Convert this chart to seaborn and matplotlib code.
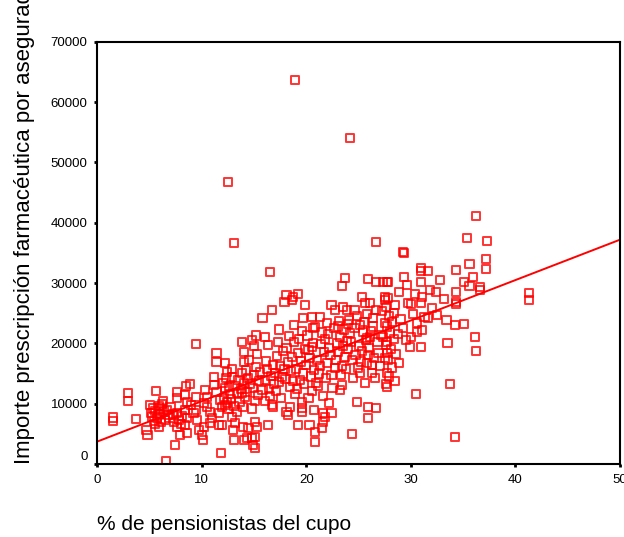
import matplotlib
matplotlib.use("Agg")
import matplotlib.pyplot as plt
import matplotlib.transforms as mtransforms
import numpy as np
import pandas as pd
import seaborn as sns

# ---------------- data ----------------
# (% de pensionistas del cupo, importe prescripción por asegurado)
puntos_aislados = [
    (18.9, 63700), (24.2, 54000), (12.5, 46700), (13.1, 36700), (16.5, 31900),
    (26.7, 36800), (41.3, 28300), (41.3, 27200), (34.2, 4500), (33.7, 13300),
    (30.5, 11600), (6.6, 500), (11.8, 1800), (7.4, 3200), (1.5, 7700),
    (1.5, 7200), (2.9, 11700), (2.9, 10500), (3.7, 7500), (9.4, 19900),
    (24.4, 5000), (20.8, 3600),
]
puntos_izquierda = [
    (5.6, 12100), (5.0, 9800), (5.3, 9300), (5.5, 8800), (5.9, 9600), (6.2, 9900), (6.0, 8300), (5.7, 7600), (5.1, 8500), (5.4, 7200),
    (4.7, 5600), (4.8, 4800), (5.9, 6200), (6.7, 9000), (6.8, 8100), (6.5, 7300), (7.6, 12000), (7.6, 10900), (7.6, 8500), (7.8, 7300),
    (7.6, 6100), (7.9, 4800), (8.5, 12900), (8.9, 13300), (8.4, 11400), (8.6, 10300), (8.4, 9000), (8.6, 7600), (8.4, 6500), (8.6, 5100),
    (9.4, 11100), (9.4, 9000), (9.5, 7300), (9.7, 5600), (10.0, 4800), (10.1, 4000), (10.3, 12300), (10.5, 11100), (10.2, 10100), (10.8, 8600),
    (11.0, 7600), (10.8, 6800), (11.2, 14400), (11.2, 13100), (11.4, 11900), (11.7, 10600), (11.9, 9500), (11.6, 8500), (11.4, 18400), (11.4, 16900),
    (12.2, 16700), (12.4, 15300), (11.6, 6500), (11.9, 6500), (13.1, 4000), (14.0, 4000), (12.9, 14400), (13.2, 13000), (13.4, 11800), (12.8, 10800),
    (13.1, 9600), (13.4, 8600), (12.9, 7800), (13.2, 6800), (13.0, 5600), (13.8, 20200), (14.0, 18600), (14.0, 16900), (13.8, 15100), (14.0, 13400),
    (13.8, 11800), (6.3, 10400), (7.0, 9500), (7.2, 8200), (9.0, 9800), (9.2, 8400), (10.5, 9400), (10.2, 6200), (12.2, 12600), (12.5, 9200),
    (5.2, 7800), (5.8, 8200), (6.1, 7000), (6.4, 8700), (5.5, 6700), (6.9, 7700), (7.3, 6900), (8.1, 7900), (8.0, 6700), (6.0, 9200),
]
puntos_inferiores = [
    (14.8, 9200), (13.9, 6100), (14.4, 6000), (15.1, 7000), (15.3, 6100), (14.3, 4300), (14.8, 4300), (15.1, 4500), (14.9, 3200), (15.1, 2700),
    (16.3, 6500), (16.7, 9800), (16.8, 9500), (18.1, 8600), (18.4, 9500), (18.2, 8100), (19.6, 10300), (19.6, 9300), (19.6, 8600), (19.2, 6500),
    (20.3, 6500), (20.8, 5300), (20.7, 9000), (21.5, 6000), (21.6, 7000), (21.8, 7800), (21.6, 8500), (22.2, 10100), (22.4, 8500), (23.2, 12300),
    (23.4, 13100), (24.8, 10300), (25.9, 9500), (26.7, 9300), (25.9, 7600), (25.8, 16700), (26.3, 16400), (26.3, 15100), (27.7, 15100), (27.7, 12800),
    (27.5, 17600), (27.7, 18400), (26.1, 21100), (25.8, 20900), (27.3, 21100), (27.7, 20200),
]
puntos_derecha = [
    (36.2, 41100), (35.4, 37500), (37.3, 37000), (37.2, 34000), (37.2, 32300), (35.6, 33200), (34.3, 32200), (29.2, 35200), (29.3, 35000), (31.0, 32500),
    (31.0, 32000), (31.6, 32000), (29.3, 31000), (27.8, 30200), (31.0, 30200), (28.9, 28500), (32.4, 28500), (31.8, 28900), (34.3, 28500), (35.1, 30200),
    (35.6, 29500), (36.6, 29400), (36.6, 28900), (31.1, 27700), (27.8, 27500), (29.7, 26700), (30.0, 26500), (31.0, 26700), (34.3, 26900), (34.3, 26500),
    (32.0, 25900), (28.5, 26400), (28.4, 25000), (31.3, 24400), (31.6, 24200), (33.4, 23900), (34.2, 23000), (35.1, 23200), (30.6, 23400), (30.6, 21900),
    (31.1, 22200), (29.2, 22600), (36.1, 21100), (36.2, 18700), (33.5, 20100), (29.9, 19400), (31.0, 19400), (28.9, 16700),
    (27.6, 26000), (27.9, 24500), (28.2, 23600), (27.7, 22800), (28.0, 21800), (28.4, 20800), (27.6, 19800), (28.1, 19000), (28.6, 18200), (27.8, 17200),
    (28.2, 16000), (27.9, 14500), (28.5, 13800), (27.6, 13200), (28.8, 21500), (29.0, 24000), (29.5, 20500), (30.2, 24800), (30.0, 21000), (32.5, 24700),
    (32.8, 30500), (33.2, 27300), (30.4, 28200), (29.6, 29700), (35.9, 31000),
]
puntos_superiores = [
    (23.7, 30800), (23.4, 29500), (25.9, 30700), (26.7, 30200), (27.3, 30200), (27.7, 30200), (18.1, 28000), (18.7, 27700), (19.2, 28200), (17.9, 26900),
    (18.6, 27200), (19.9, 26400), (16.7, 25500), (15.8, 24200), (19.7, 24200), (20.5, 24400), (21.3, 24400), (22.4, 26400), (22.7, 25500), (23.5, 26000),
    (23.9, 25500), (24.6, 25500), (25.3, 27700), (25.6, 26700), (26.1, 26700), (26.7, 25500), (27.5, 27700), (27.5, 27200), (22.0, 23400), (23.0, 22800),
    (24.0, 23200), (25.1, 23000), (26.4, 22800), (27.5, 23400), (20.6, 22600), (18.8, 23000), (17.4, 22300), (15.2, 21300), (14.8, 20500), (16.0, 21100),
]
puntos_nucleo = [
    (12.0, 13500), (12.3, 14200), (12.6, 12800), (12.1, 11000), (12.7, 11600), (12.4, 10200), (12.9, 15800), (12.2, 9800),
    (13.5, 14000), (13.7, 12500), (14.2, 15500), (14.4, 14300), (14.1, 11100), (13.6, 10300), (14.3, 12000), (14.5, 17200), (13.9, 9400), (14.6, 13200),
    (15.0, 14800), (15.2, 16100), (14.9, 12600), (15.4, 11500), (15.1, 10400), (15.5, 13700), (15.3, 18200), (15.6, 15200), (15.0, 19500), (15.8, 12200),
    (16.0, 13900), (16.2, 15700), (16.4, 12400), (16.1, 17000), (16.5, 11200), (16.3, 19800), (16.6, 14600), (16.8, 16400), (16.0, 10500), (16.9, 13200),
    (17.0, 15100), (17.2, 17900), (17.4, 13600), (17.1, 12100), (17.5, 16300), (17.3, 20300), (17.7, 14400), (17.6, 11000), (17.8, 18800), (17.9, 15800),
    (18.0, 14100), (18.2, 16900), (18.4, 12800), (18.1, 19300), (18.5, 15400), (18.3, 21200), (18.7, 13700), (18.6, 17800), (18.9, 11600), (18.8, 20200),
    (19.0, 15800), (19.2, 18400), (19.4, 14000), (19.1, 12500), (19.5, 17000), (19.3, 20700), (19.7, 15000), (19.6, 22000), (19.8, 13200), (19.9, 19000),
    (20.0, 16400), (20.2, 18900), (20.4, 14500), (20.1, 21300), (20.5, 12100), (20.3, 17500), (20.7, 15600), (20.6, 20000), (20.9, 13500), (20.8, 22700), (20.2, 10900), (20.5, 19400),
    (21.0, 17200), (21.2, 15000), (21.4, 19900), (21.1, 13000), (21.5, 21800), (21.3, 16300), (21.7, 18600), (21.6, 11300), (21.9, 14300), (21.8, 20700),
    (22.0, 16800), (22.2, 19300), (22.4, 14700), (22.1, 21600), (22.5, 12600), (22.3, 18000), (22.7, 15900), (22.6, 22500), (22.9, 20100), (22.8, 17300),
    (23.0, 18500), (23.2, 21000), (23.4, 16200), (23.1, 23700), (23.5, 19600), (23.3, 14800), (23.7, 17700), (23.6, 22300), (23.9, 20400), (23.8, 15700),
    (24.0, 19000), (24.2, 21700), (24.4, 17300), (24.1, 23900), (24.5, 14200), (24.3, 20300), (24.7, 18100), (24.6, 22600), (24.9, 16000), (24.8, 24500),
    (25.0, 19500), (25.2, 17000), (25.4, 21900), (25.1, 15100), (25.5, 23600), (25.3, 18700), (25.7, 20500), (25.6, 13400), (25.9, 18000), (25.8, 24800),
    (26.0, 19200), (26.2, 22000), (26.5, 17600), (26.8, 20300), (26.4, 24200), (26.9, 18400), (27.1, 21400), (27.0, 16300), (26.6, 14200), (27.2, 25300),
]

x_ticks = [0, 10, 20, 30, 40, 50]
y_ticks = [0, 10000, 20000, 30000, 40000, 50000, 60000, 70000]
x_label = "% de pensionistas del cupo"
y_label = "Importe prescripción farmacéutica por asegurado"

todos = (puntos_aislados + puntos_izquierda + puntos_inferiores +
         puntos_derecha + puntos_superiores + puntos_nucleo)
df = pd.DataFrame(todos, columns=["pct", "importe"])

# ---------------- style ----------------
sns.set_style("white")
plt.rcParams["font.family"] = ["Liberation Sans", "DejaVu Sans"]

fig = plt.figure(figsize=(6.24, 5.37), dpi=100)
ax = fig.add_axes([0.156, 0.136, 0.8376, 0.786])
ax.set_xlim(0, 50)
ax.set_ylim(0, 70000)

sns.regplot(
    data=df, x="pct", y="importe", ax=ax, ci=None, truncate=False,
    color="#ff0000", marker="s",
    scatter_kws=dict(s=34, facecolors="none", edgecolors="#ff0000",
                     linewidths=1.4),
    line_kws=dict(linewidth=1.4),
)
for coll in ax.collections:
    coll.set_joinstyle("round")

ax.set_xlim(0, 50)
ax.set_ylim(0, 70000)
ax.set_xticks(x_ticks)
ax.set_yticks(y_ticks)
ax.set_xticklabels([str(v) for v in x_ticks])
ax.set_yticklabels([str(v) for v in y_ticks])

for side in ["left", "bottom", "top", "right"]:
    ax.spines[side].set_visible(True)
    ax.spines[side].set_color("black")
    ax.spines[side].set_linewidth(1.5)

ax.tick_params(axis="both", which="major", direction="out", length=2.5,
               width=2, color="black", labelsize=9.5, labelcolor="black",
               left=True, bottom=True, top=False, right=False)
ax.tick_params(axis="x", pad=4.8)
ax.tick_params(axis="y", pad=4.5)

ax.set_xlabel(x_label, fontsize=15, loc="left", labelpad=21, color="black")
ax.set_ylabel(y_label, fontsize=16, loc="bottom", labelpad=11, color="black")

fig.canvas.draw()
lab0 = ax.yaxis.get_major_ticks()[0].label1
lab0.set_transform(lab0.get_transform() +
                   mtransforms.ScaledTranslation(0, 6 / 72, fig.dpi_scale_trans))

fig.savefig("out.png", dpi=100, facecolor="white")
